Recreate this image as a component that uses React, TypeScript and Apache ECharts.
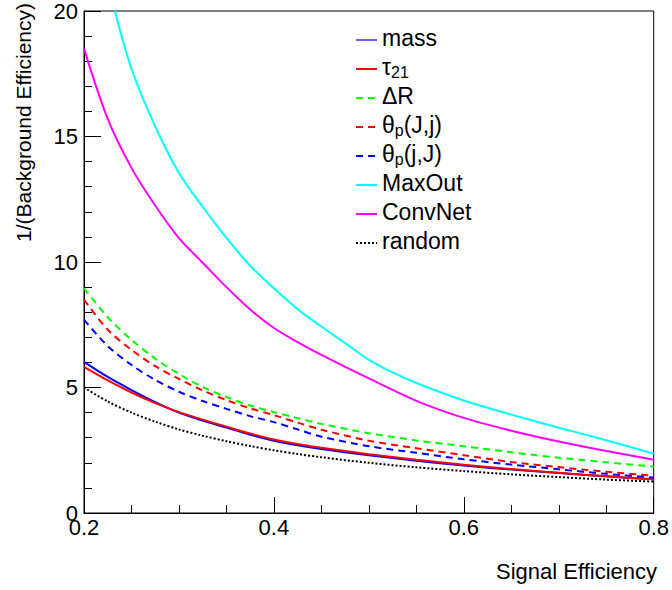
import React, { useEffect, useRef } from "react";
import * as echarts from "echarts";

const effGrid = [0.2, 0.225, 0.25, 0.275, 0.3, 0.325, 0.35, 0.375, 0.4, 0.425, 0.45, 0.5, 0.55, 0.6, 0.65, 0.7, 0.75, 0.8];
const massVals = [6.02, 5.42, 4.9, 4.42, 4.0, 3.68, 3.4, 3.12, 2.88, 2.7, 2.55, 2.3, 2.08, 1.89, 1.73, 1.59, 1.46, 1.34];
const tau21Vals = [5.82, 5.28, 4.8, 4.38, 4.02, 3.72, 3.44, 3.17, 2.93, 2.75, 2.6, 2.34, 2.12, 1.92, 1.75, 1.6, 1.46, 1.34];
const deltaRVals = [8.95, 7.8, 6.9, 6.15, 5.54, 5.02, 4.62, 4.28, 4.02, 3.78, 3.55, 3.18, 2.89, 2.66, 2.42, 2.2, 2.02, 1.85];
const thetaJjVals = [8.5, 7.3, 6.5, 5.85, 5.34, 4.88, 4.5, 4.17, 3.9, 3.6, 3.32, 2.88, 2.58, 2.3, 2.03, 1.83, 1.64, 1.49];
const thetajJVals = [7.7, 6.65, 5.9, 5.3, 4.83, 4.46, 4.15, 3.86, 3.62, 3.33, 3.04, 2.66, 2.4, 2.14, 1.93, 1.74, 1.56, 1.41];
const convNetVals = [18.5, 15.7, 13.75, 12.25, 10.95, 9.97, 9.0, 8.11, 7.37, 6.81, 6.3, 5.36, 4.47, 3.79, 3.28, 2.85, 2.47, 2.12];
const randomVals = [5.0, 4.44, 4.0, 3.64, 3.33, 3.08, 2.86, 2.67, 2.5, 2.35, 2.22, 2.0, 1.82, 1.67, 1.54, 1.43, 1.33, 1.25];
const maxOutEff = [0.2325, 0.25, 0.275, 0.3, 0.325, 0.35, 0.375, 0.4, 0.425, 0.45, 0.475, 0.5, 0.525, 0.55, 0.6, 0.65, 0.7, 0.75, 0.8];
const maxOutVals = [20, 17.7, 15.4, 13.55, 12.2, 10.96, 9.85, 8.95, 8.12, 7.43, 6.77, 6.1, 5.6, 5.18, 4.48, 3.92, 3.4, 2.9, 2.36];

const seriesNames = ["mass", "τ21", "ΔR", "θp(J,j)", "θp(j,J)", "MaxOut", "ConvNet", "random"];
const legendRich = [
  "{m|mass}",
  "{m|τ}{s|21}",
  "{m|ΔR}",
  "{m|θ}{s|p}{m|(J,j)}",
  "{m|θ}{s|p}{m|(j,J)}",
  "{m|MaxOut}",
  "{m|ConvNet}",
  "{m|random}",
];
const xTitle = "Signal Efficiency";
const yTitle = "1/(Background Efficiency)";

const FONT = "Liberation Sans, Arial, Helvetica, sans-serif";

const styles = [
  { color: "#0000ff", type: "solid" as any, width: 2 },
  { color: "#ff0000", type: "solid" as any, width: 2 },
  { color: "#00ff00", type: [7, 5] as any, width: 2 },
  { color: "#ff0000", type: [7, 5] as any, width: 2 },
  { color: "#0000ff", type: [7, 5] as any, width: 2 },
  { color: "#00ffff", type: "solid" as any, width: 2 },
  { color: "#ff00ff", type: "solid" as any, width: 2 },
  { color: "#000000", type: [2, 2] as any, width: 2 },
];

export default function App() {
  const ref = useRef<HTMLDivElement>(null);
  useEffect(() => {
    if (!ref.current) return;
    const chart = echarts.init(ref.current, undefined, { renderer: "svg" });
    const pair = (xs: number[], ys: number[]) => xs.map((x, i) => [x, ys[i]]);
    const dataSets = [
      pair(effGrid, massVals),
      pair(effGrid, tau21Vals),
      pair(effGrid, deltaRVals),
      pair(effGrid, thetaJjVals),
      pair(effGrid, thetajJVals),
      pair(maxOutEff, maxOutVals),
      pair(effGrid, convNetVals),
      pair(effGrid, randomVals),
    ];
    const series = dataSets.map((d, i) => ({
      type: "line",
      name: seriesNames[i],
      data: d,
      showSymbol: false,
      smooth: 0.3,
      clip: true,
      lineStyle: { color: styles[i].color, width: styles[i].width, type: styles[i].type },
      itemStyle: { color: styles[i].color },
    }));

    const legendEls: any[] = [];
    seriesNames.forEach((_, i) => {
      const ty = 38 + 29 * i;
      legendEls.push({
        type: "line",
        shape: { x1: 356, y1: ty + 2, x2: 377, y2: ty + 2 },
        style: {
          stroke: styles[i].color,
          lineWidth: i === 0 ? 1.2 : styles[i].width,
          lineDash: Array.isArray(styles[i].type) ? styles[i].type : null,
        },
      });
      legendEls.push({
        type: "text",
        x: 382,
        y: ty,
        style: {
          text: legendRich[i],
          fill: "#000",
          verticalAlign: "middle",
          align: "left",
          rich: {
            m: { fontSize: 23, fontFamily: FONT, fill: "#000", lineHeight: 26 },
            s: { fontSize: 16, fontFamily: FONT, fill: "#000", lineHeight: 14, verticalAlign: "bottom" },
          },
        },
      });
    });

    chart.setOption({
      animation: false,
      backgroundColor: "#fff",
      grid: { left: 84, top: 4, right: 15, bottom: 77, show: true, borderColor: "#000", borderWidth: 1, backgroundColor: "transparent" },
      xAxis: {
        type: "value",
        min: 0.2,
        max: 0.8,
        interval: 0.2,
        axisLine: { show: true, lineStyle: { color: "#000", width: 1 } },
        axisTick: { show: true, inside: true, length: 16, lineStyle: { color: "#000" } },
        minorTick: { show: true, splitNumber: 4, length: 8, lineStyle: { color: "#000" } },
        splitLine: { show: false },
        axisLabel: { color: "#000", fontSize: 22, fontFamily: FONT, margin: 3, showMinLabel: true, showMaxLabel: true },
      },
      yAxis: {
        type: "value",
        min: 0,
        max: 20,
        interval: 5,
        axisLine: { show: true, lineStyle: { color: "#000", width: 1 } },
        axisTick: { show: true, inside: true, length: 17, lineStyle: { color: "#000" } },
        minorTick: { show: true, splitNumber: 5, length: 8, lineStyle: { color: "#000" } },
        splitLine: { show: false },
        axisLabel: { color: "#000", fontSize: 22, fontFamily: FONT, margin: 6 },
      },
      series,
      graphic: [
        {
          type: "text",
          x: 657,
          y: 571,
          style: { text: xTitle, fill: "#000", fontSize: 22, fontFamily: FONT, align: "right", verticalAlign: "middle" },
        },
        {
          type: "text",
          x: 23,
          y: 3,
          rotation: Math.PI / 2,
          style: { text: yTitle, fill: "#000", fontSize: 21, fontFamily: FONT, align: "right", verticalAlign: "middle" },
        },
        ...legendEls,
      ],
    });
    return () => chart.dispose();
  }, []);
  return <div ref={ref} style={{ position: "absolute", left: 0, top: 0, width: 672, height: 590 }} />;
}
